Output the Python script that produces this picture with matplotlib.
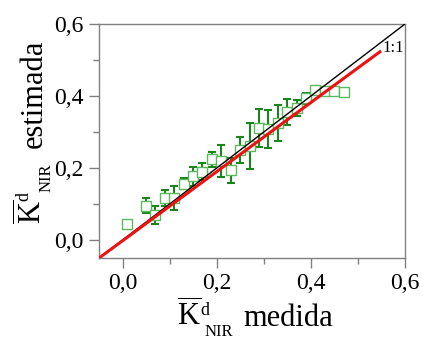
import matplotlib
matplotlib.use("Agg")
import matplotlib.pyplot as plt
import numpy as np
from matplotlib.ticker import FixedLocator

plt.rcParams['font.family'] = ['Liberation Serif', 'DejaVu Serif']
plt.rcParams['mathtext.fontset'] = 'custom'
plt.rcParams['mathtext.rm'] = 'Liberation Serif'
plt.rcParams['mathtext.it'] = 'Liberation Serif:italic'

measured = [0.01, 0.05, 0.07, 0.09, 0.11, 0.13, 0.15, 0.17, 0.19, 0.21, 0.23, 0.25,
            0.27, 0.29, 0.31, 0.33, 0.35, 0.37, 0.39, 0.41, 0.43, 0.45, 0.47]
estimated = [0.046, 0.095, 0.071, 0.117, 0.117, 0.157, 0.177, 0.190, 0.224, 0.219, 0.194, 0.250,
             0.262, 0.311, 0.309, 0.325, 0.357, 0.367, 0.394, 0.417, 0.413, 0.413, 0.412]
error = [0.0, 0.021, 0.025, 0.022, 0.033, 0.015, 0.027, 0.024, 0.022, 0.045, 0.035, 0.037,
         0.064, 0.052, 0.052, 0.050, 0.036, 0.023, 0.015, 0.010, 0.005, 0.004, 0.009]

fit_slope = 0.96
fit_intercept = -0.002
fit_range = [-0.05, 0.547]
identity_range = [-0.05, 0.6]
tick_values = [0.0, 0.2, 0.4, 0.6]
tick_labels = ['0,0', '0,2', '0,4', '0,6']
minor_values = [0.1, 0.3, 0.5]

W, H = 423, 340
fig = plt.figure(figsize=(W / 100, H / 100), dpi=100)
ax = fig.add_axes([0.234, 0.241, 0.723, 0.688])

ax.errorbar(measured, estimated, yerr=error, fmt='none', ecolor='#1a851a',
            elinewidth=1.5, capsize=3.2, capthick=1.5, zorder=2)
ax.plot(measured, estimated, linestyle='none', marker='s', markersize=7.5,
        markerfacecolor='white', markeredgecolor='#5cb85c', markeredgewidth=1.0, zorder=3)

ax.plot(identity_range, identity_range, color='black', lw=1.0, zorder=4)
fx = np.array(fit_range)
ax.plot(fx, fit_slope * fx + fit_intercept, color='#ee1111', lw=2.2, zorder=5)
ax.text(0.553, 0.535, '1:1', fontsize=12, ha='left', va='center')

ax.set_xlim(-0.05, 0.6)
ax.set_ylim(-0.05, 0.6)
ax.xaxis.set_major_locator(FixedLocator(tick_values))
ax.yaxis.set_major_locator(FixedLocator(tick_values))
ax.xaxis.set_minor_locator(FixedLocator(minor_values))
ax.yaxis.set_minor_locator(FixedLocator(minor_values))
ax.set_xticklabels(tick_labels)
ax.set_yticklabels(tick_labels)
ax.tick_params(which='major', direction='out', length=7, width=1, color='#808080',
               labelsize=17, pad=4)
ax.tick_params(which='minor', direction='out', length=4, width=1, color='#808080')
for s in ax.spines.values():
    s.set_color('#808080')
    s.set_linewidth(1.0)


def ptext(x, y, s, size, rot=0):
    fig.text(x / W, 1 - y / H, s, fontsize=size, rotation=rot,
             rotation_mode='anchor', ha='left', va='baseline')


# x label pieces (pixel positions: left start, baseline)
ptext(177, 326, r'$\overline{\mathrm{K}}$', 22)
ptext(200, 315, 'd', 13)
ptext(205, 336, 'NIR', 12)
ptext(243, 326, 'medida', 22)

# y label pieces (rotated: baseline x, start y)
ptext(42, 224, r'$\overline{\mathrm{K}}$', 22, 90)
ptext(28, 201, 'd', 13, 90)
ptext(51, 192, 'NIR', 12, 90)
ptext(42, 148, 'estimada', 22, 90)

fig.savefig('out.png', dpi=100)
